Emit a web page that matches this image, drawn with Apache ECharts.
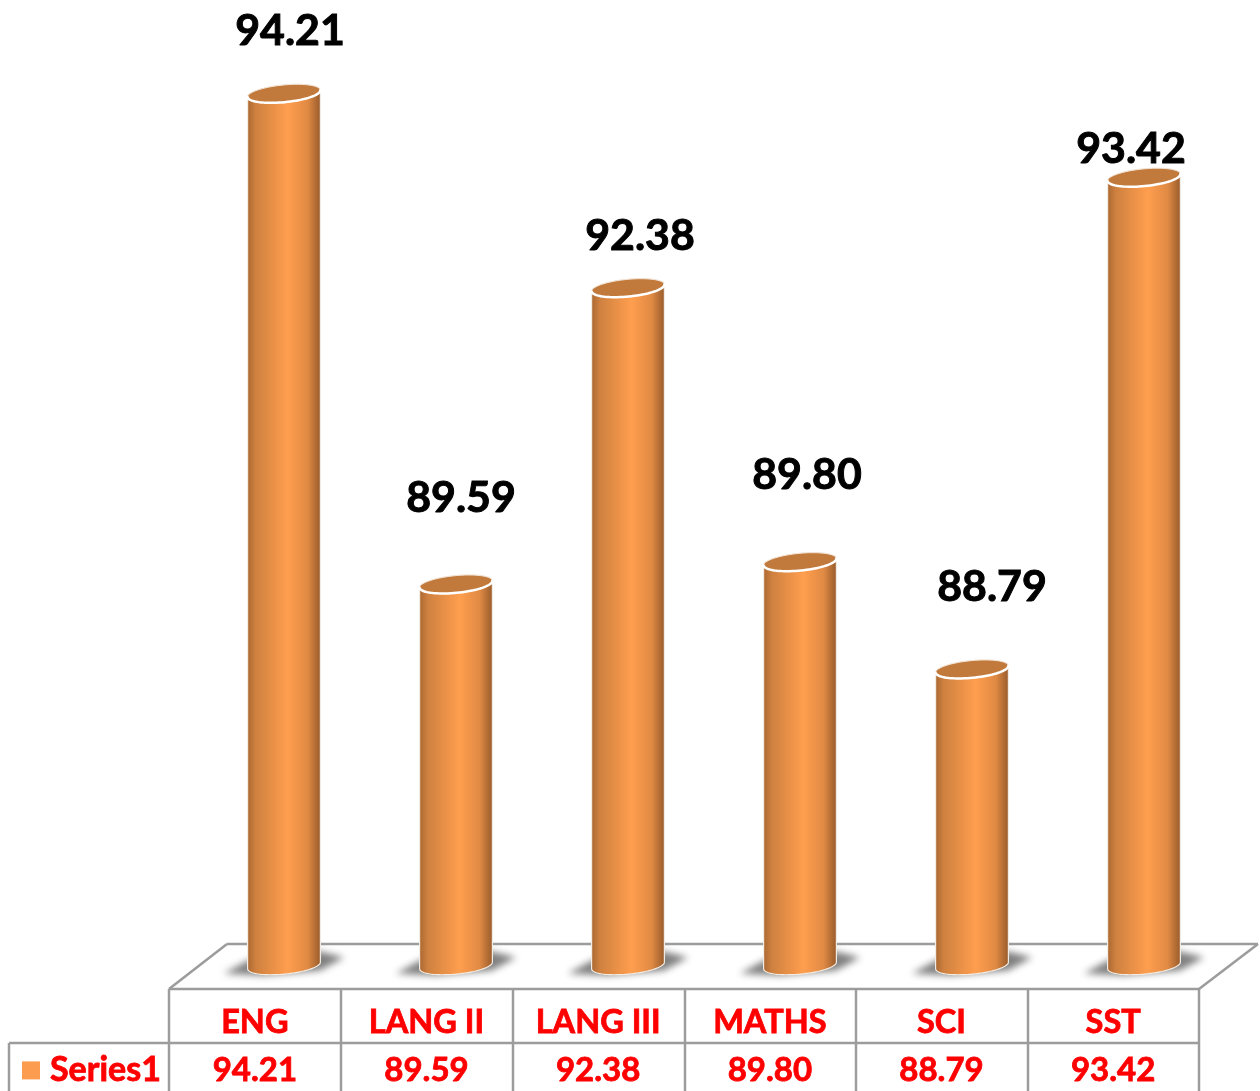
<!DOCTYPE html>
<html><head><meta charset="utf-8">
<style>html,body{margin:0;padding:0;background:#fff}#c{width:1260px;height:1091px}</style>
<script src="https://cdn.jsdelivr.net/npm/echarts@6/dist/echarts.min.js"></script>
</head><body><div id="c"></div>
<script>
const categories = ['ENG','LANG II','LANG III','MATHS','SCI','SST'];
const values = [94.21,89.59,92.38,89.80,88.79,93.42];
const seriesName = 'Series1';
// hand-placed data label offsets, as in the reference (dx, dy from the bar top)
const labelDx = [6,5,12,7,20,-13];
const labelDy = [-62,-86,-52,-87,-82,-28];

const GREY = '#9c9c9c', RED = '#ff0000', FONT = 'Lato';
const TILT = -5.5 * Math.PI / 180;
const OFF = 3000;

function ellipsePoint(cx, cy, a, b, t) {
  const x = a * Math.cos(t), y = b * Math.sin(t);
  return [cx + x * Math.cos(TILT) - y * Math.sin(TILT), cy + x * Math.sin(TILT) + y * Math.cos(TILT)];
}
function renderCylinder(params, api) {
  const i = api.value(0), v = api.value(1);
  const top = api.coord([i, v]);
  const base = api.coord([i, 86]);
  const a = api.size([1, 0])[0] * 0.2125, b = 8.6;
  const cx = top[0];
  const body = [];
  for (let k = 0; k <= 40; k++) body.push(ellipsePoint(cx, top[1], a, b, Math.PI + k * Math.PI / 40));
  for (let k = 0; k <= 40; k++) body.push(ellipsePoint(cx, base[1], a, b, k * Math.PI / 40));
  const cap = [], rim = [];
  for (let k = 0; k < 72; k++) cap.push(ellipsePoint(cx, top[1], a, b, k * Math.PI / 36));
  for (let k = 0; k <= 40; k++) rim.push(ellipsePoint(cx, top[1], a, b, k * Math.PI / 40));
  const by = base[1];
  const shadowPts = [[-60,8],[-36,-5],[36,-14],[60,-8],[36,5],[-20,10]].map(p => [cx + p[0] - OFF, by + p[1]]);
  return {
    type: 'group',
    children: [
      { type: 'polygon', shape: { points: shadowPts },
        style: { fill: '#000', shadowBlur: 7, shadowOffsetX: OFF, shadowColor: 'rgba(105,105,105,0.85)' } },
      { type: 'polygon', shape: { points: body },
        style: {
          fill: new echarts.graphic.LinearGradient(0, 0, 1, 0, [
            { offset: 0, color: '#a9662f' }, { offset: 0.12, color: '#cf8140' },
            { offset: 0.55, color: '#ff9e4e' }, { offset: 0.82, color: '#e08a44' },
            { offset: 1, color: '#95592a' }]),
          stroke: '#f3ece4', lineWidth: 1.2 } },
      { type: 'polygon', shape: { points: cap },
        style: { fill: '#c27a3c', stroke: '#f4e6d8', lineWidth: 1, lineJoin: 'round' } },
      { type: 'polyline', shape: { points: rim },
        style: { fill: 'none', stroke: '#ffffff', lineWidth: 2.5, lineCap: 'round' } },
      { type: 'text', x: cx + labelDx[i], y: top[1] + labelDy[i],
        style: { text: v.toFixed(2), fill: '#000', stroke: '#000', lineWidth: 1, fontFamily: FONT, fontWeight: 700, fontSize: 42.8,
          align: 'center', verticalAlign: 'middle' } }
    ]
  };
}
function line(x1, y1, x2, y2) {
  return { type: 'line', z: 0, shape: { x1, y1, x2, y2 }, style: { stroke: GREY, lineWidth: 2.5 } };
}
const tableX = [169,341,513,685,856,1028,1199];
const lines = [
  line(169,989,227,944), line(227,944,1258,944), line(1258,944,1199,989),
  line(169,989,1199,989), line(9,1043,1199,1043), line(9,1043,9,1091)
].concat(tableX.map(x => line(x,989,x,1091)));

const tableLabel = { fontFamily: FONT, fontWeight: 700, fontSize: 33, color: RED, textBorderColor: RED, textBorderWidth: 0.8, verticalAlign: 'middle', interval: 0 };
const chart = echarts.init(document.getElementById('c'), null, { renderer: 'canvas' });
chart.setOption({
  animation: false,
  backgroundColor: '#fff',
  legend: { left: 22, top: 1053, padding: 0, itemWidth: 18, itemHeight: 18, selectedMode: false,
    data: [{ name: seriesName, icon: 'rect' }],
    textStyle: { fontFamily: FONT, fontWeight: 700, fontSize: 34, color: RED, textBorderColor: RED, textBorderWidth: 0.8, padding: [0,0,0,5] } },
  grid: [
    { left: 198, width: 1032, top: 9.7, height: 955.8 },
    { left: 169, width: 1030, top: 989, height: 20 }
  ],
  xAxis: [
    { type: 'category', gridIndex: 0, data: categories, show: false },
    { type: 'category', gridIndex: 1, data: categories, position: 'bottom',
      axisLine: { show: false }, axisTick: { show: false }, axisLabel: { ...tableLabel, fontSize: 32.5, margin: 14 } },
    { type: 'category', gridIndex: 1, data: values.map(v => v.toFixed(2)), position: 'bottom', offset: 47,
      axisLine: { show: false }, axisTick: { show: false }, axisLabel: { ...tableLabel, margin: 14 } }
  ],
  yAxis: [
    { type: 'value', gridIndex: 0, min: 86, max: 95, interval: 1, show: false },
    { type: 'value', gridIndex: 1, show: false }
  ],
  graphic: { elements: lines },
  series: [{
    type: 'custom', name: seriesName, xAxisIndex: 0, yAxisIndex: 0, z: 5, clip: false,
    itemStyle: { color: '#fb9c4f' },
    renderItem: renderCylinder,
    encode: { x: 0, y: 1 },
    data: values.map((v, i) => [i, v])
  }]
});
</script></body></html>
